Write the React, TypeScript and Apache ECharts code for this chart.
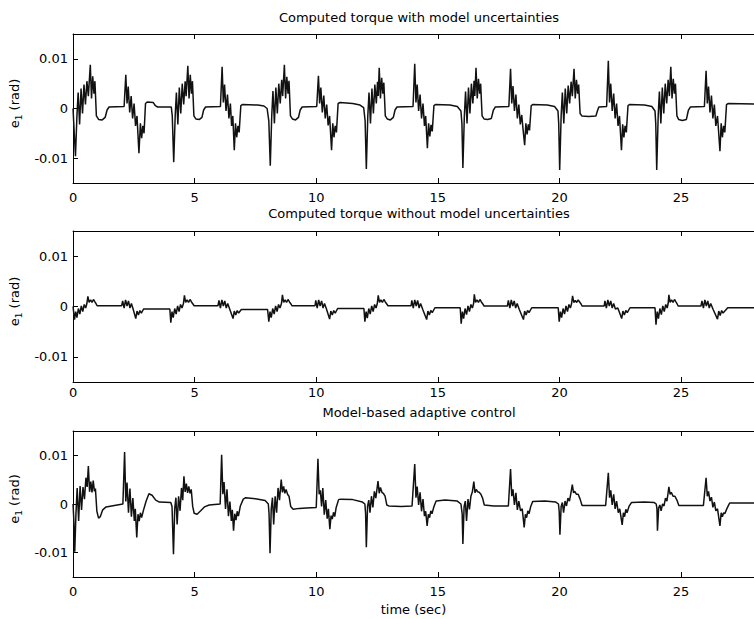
import React, { useEffect, useRef } from "react";
import * as echarts from "echarts";

const TITLES = [
  "Computed torque with model uncertainties",
  "Computed torque without model uncertainties",
  "Model-based adaptive control",
];
const X_TICKS = [0, 5, 10, 15, 20, 25];
const X_MIN = 0;
const X_MAX = 28;
const Y_TICKS = [-0.01, 0, 0.01];
const Y_TICK_LABELS = ["-0.01", "0", "0.01"];
const Y_MIN = -0.015;
const Y_MAX = 0.015;
const X_NAME = "time (sec)";

// e1 values in milli-radians, [time (s), e1 (mrad)]
const E1_WITH_UNC: [number, number][] = [
  [0, 0], [0.05, -5], [0.1, -9.6], [0.16, -1.5], [0.21, 3.2], [0.27, -3.2], [0.33, 4], [0.39, -1], [0.45, 4.8], [0.51, 0.8], [0.57, 5.5], [0.63, 2.5], [0.71, 8.8], [0.76, 2], [0.81, 6.5], [0.86, 3], [0.9, 5.5], [0.96, -1.5], [1.05, -2.2], [1.2, -2.3], [1.32, -1.8], [1.4, -0.3], [1.48, 0.3], [2.1, 0.4],
  [2.17, 6.8], [2.22, 1], [2.27, 4.4], [2.33, -0.8], [2.39, 2.5], [2.45, -2], [2.51, 1], [2.57, -3.5], [2.63, -1.5], [2.71, -9], [2.77, -3], [2.82, -6], [2.87, -3.5], [2.92, -5], [2.98, 1.0], [3.05, 1.3], [3.3, 1.2], [3.38, 0.6], [3.48, 0.3], [4.04, 0.3],
  [4.08, -1.5], [4.14, -10.8], [4.2, -1.5], [4.25, 3.2], [4.31, -3.2], [4.37, 4.2], [4.43, -1], [4.49, 5], [4.55, 0.8], [4.61, 5.5], [4.65, 2.5], [4.72, 8.6], [4.77, 2], [4.82, 6.8], [4.87, 3], [4.91, 5.5], [4.97, -1.5], [5.05, -2.1], [5.2, -2.2], [5.3, -1.8], [5.37, -0.3], [5.45, 0.3], [6.06, 0.4],
  [6.13, 8.4], [6.18, 1.2], [6.23, 4.8], [6.29, -0.5], [6.35, 2.8], [6.41, -2], [6.47, 1], [6.52, -3.5], [6.57, -1.5], [6.63, -8.4], [6.68, -3], [6.73, -5.8], [6.78, -3.5], [6.83, -4.8], [6.9, 0.6], [6.96, 0.8], [7.6, 0.7], [7.85, 0.5], [7.98, 0],
  [8.05, -2.5], [8.11, -11.5], [8.17, -1.5], [8.22, 3.5], [8.28, -3], [8.34, 4.2], [8.4, -1], [8.46, 5], [8.52, 1], [8.58, 5.8], [8.62, 2.5], [8.69, 8.8], [8.74, 2], [8.79, 6.4], [8.84, 3], [8.88, 5.6], [8.94, -1.5], [9.02, -2.1], [9.15, -2.3], [9.27, -1.8], [9.34, -0.3], [9.42, 0.3], [10.02, 0.4],
  [10.09, 6.6], [10.14, 1], [10.19, 4.2], [10.25, -0.8], [10.31, 2.6], [10.37, -2], [10.43, 0.8], [10.49, -3.4], [10.55, -1.5], [10.63, -8.4], [10.68, -3], [10.73, -5.8], [10.78, -3.5], [10.83, -4.8], [10.9, 1.0], [10.98, 1.2], [11.5, 1.0], [11.8, 0.7], [11.95, 0.2],
  [12.01, -2.5], [12.06, -12.2], [12.12, -1.5], [12.17, 3.2], [12.23, -3], [12.29, 4], [12.35, -1], [12.41, 4.8], [12.47, 1], [12.52, 5.4], [12.55, 2.5], [12.59, 8.2], [12.64, 2], [12.69, 6.2], [12.74, 3], [12.78, 5.2], [12.84, -1.5], [12.92, -2.1], [13.05, -2.3], [13.17, -1.8], [13.24, -0.3], [13.32, 0.3], [13.98, 0.4],
  [14.05, 9], [14.1, 1.2], [14.15, 4.8], [14.21, -0.5], [14.27, 2.8], [14.33, -2], [14.39, 1], [14.45, -3.5], [14.5, -1.5], [14.57, -8], [14.62, -3], [14.67, -5.6], [14.72, -3.3], [14.77, -4.6], [14.84, 0.6], [14.9, 0.8], [15.5, 0.7], [15.8, 0.4], [15.95, -0.5],
  [15.99, -3], [16.03, -12], [16.09, -1.5], [16.14, 3.4], [16.2, -3], [16.26, 4.2], [16.32, -1], [16.38, 5], [16.44, 1], [16.49, 5.6], [16.52, 2.5], [16.57, 8.2], [16.62, 2], [16.67, 6], [16.72, 3], [16.76, 5], [16.82, -1.5], [16.9, -2.1], [17.05, -2.2], [17.2, -2], [17.28, -0.4], [17.36, 0.3], [17.92, 0.4],
  [17.99, 8], [18.04, 1], [18.09, 4.5], [18.15, -0.5], [18.21, 2.8], [18.27, -2], [18.33, 0.8], [18.39, -3.2], [18.45, -1.3], [18.51, -4.5], [18.57, -7.4], [18.62, -3], [18.67, -5.2], [18.72, -3.2], [18.77, -4.4], [18.84, 0.6], [18.9, 0.8], [19.5, 0.7], [19.8, 0.4], [19.94, -0.5],
  [19.97, -3], [20.01, -12.4], [20.07, -1.5], [20.12, 3.2], [20.18, -3], [20.24, 4], [20.3, -1], [20.36, 4.6], [20.42, 1], [20.48, 5.4], [20.53, 2.5], [20.6, 8], [20.65, 2], [20.7, 5.8], [20.75, 3], [20.79, 4.8], [20.85, -1], [20.92, -1.5], [21.2, -1.6], [21.5, -1.5], [21.56, -0.5], [21.62, 0.3], [21.94, 0.4],
  [22.01, 9.6], [22.06, 1.2], [22.11, 5], [22.17, -0.5], [22.23, 3], [22.29, -2], [22.35, 1], [22.41, -3.5], [22.47, -1.5], [22.55, -8.4], [22.6, -3.2], [22.65, -5.8], [22.7, -3.5], [22.75, -4.8], [22.82, 0.6], [22.88, 0.8], [23.5, 0.7], [23.8, 0.4], [23.93, -0.5],
  [23.96, -3], [24.0, -12.4], [24.06, -1.5], [24.11, 3.4], [24.17, -3], [24.23, 4.2], [24.29, -1], [24.35, 5], [24.41, 1], [24.47, 5.8], [24.52, 2.5], [24.58, 8.4], [24.63, 2], [24.68, 6], [24.73, 3], [24.77, 5], [24.83, -1.5], [24.9, -2.2], [25.05, -2.4], [25.22, -2.2], [25.3, -0.4], [25.38, 0.3], [25.96, 0.4],
  [26.03, 7.6], [26.08, 1], [26.13, 4.4], [26.19, -0.8], [26.25, 2.6], [26.31, -2], [26.37, 0.8], [26.43, -3.5], [26.5, -1.5], [26.6, -8.6], [26.65, -3], [26.7, -5.8], [26.75, -3.5], [26.8, -4.8], [26.87, 0.8], [26.93, 1.0], [28, 0.9],
];

const E1_WITHOUT_UNC: [number, number][] = [
  [0, 0], [0.06, -2.6], [0.11, -1], [0.16, -2.2], [0.22, -0.4], [0.28, -1.5], [0.34, 0.1], [0.4, -1], [0.46, 0.4], [0.52, -0.3], [0.57, 0.6], [0.61, 2], [0.66, 0.8], [0.72, 1.3], [0.78, 0.8], [0.84, 1.4], [0.9, 0.9], [0.95, 0.5], [0.99, 0.15], [2.0, 0.15],
  [2.04, 1.1], [2.1, -0.3], [2.16, 1.3], [2.22, 0.1], [2.28, 1.1], [2.34, -0.3], [2.4, 0.6], [2.47, -0.5], [2.58, -2.4], [2.63, -0.9], [2.69, -1.7], [2.75, -0.8], [2.81, -1.3], [2.9, -0.5], [3.98, -0.5],
  [4.02, -3.2], [4.07, -1], [4.12, -2.2], [4.18, -0.4], [4.24, -1.5], [4.3, 0.1], [4.36, -1], [4.42, 0.4], [4.48, -0.3], [4.54, 0.6], [4.58, 2.2], [4.63, 0.8], [4.69, 1.3], [4.75, 0.8], [4.81, 1.4], [4.87, 0.9], [4.93, 0.5], [4.98, 0.15], [5.96, 0.15],
  [6.0, 1.2], [6.06, -0.3], [6.12, 1.3], [6.18, 0.1], [6.24, 1.1], [6.3, -0.3], [6.36, 0.6], [6.44, -0.5], [6.58, -2.4], [6.63, -0.9], [6.69, -1.7], [6.75, -0.8], [6.81, -1.3], [6.92, -0.6], [8.0, -0.6],
  [8.05, -3], [8.1, -1], [8.15, -2.2], [8.21, -0.4], [8.27, -1.5], [8.33, 0.1], [8.39, -1], [8.45, 0.4], [8.51, -0.3], [8.57, 0.6], [8.61, 2.3], [8.66, 0.8], [8.72, 1.3], [8.78, 0.8], [8.84, 1.4], [8.9, 0.9], [8.96, 0.5], [9.0, 0.15], [9.95, 0.15],
  [9.98, 1.2], [10.04, -0.3], [10.1, 1.3], [10.16, 0.1], [10.22, 1.1], [10.28, -0.3], [10.34, 0.6], [10.42, -0.5], [10.55, -2.5], [10.6, -0.9], [10.66, -1.7], [10.72, -0.8], [10.78, -1.3], [10.88, -0.4], [11.96, -0.4],
  [12.0, -3], [12.05, -1], [12.1, -2.3], [12.16, -0.4], [12.22, -1.5], [12.28, 0.1], [12.34, -1], [12.4, 0.4], [12.46, -0.3], [12.51, 0.6], [12.55, 2.2], [12.6, 0.8], [12.66, 1.3], [12.72, 0.8], [12.78, 1.4], [12.84, 0.9], [12.9, 0.5], [12.95, 0.15], [13.9, 0.15],
  [13.93, 1.2], [13.99, -0.3], [14.05, 1.3], [14.11, 0.1], [14.17, 1.2], [14.23, -0.3], [14.29, 0.6], [14.38, -0.6], [14.54, -2.6], [14.59, -0.9], [14.65, -1.7], [14.71, -0.8], [14.77, -1.2], [14.88, -0.25], [15.92, -0.25],
  [15.96, -3.4], [16.01, -1], [16.06, -2.4], [16.12, -0.4], [16.18, -1.6], [16.24, 0.1], [16.3, -1], [16.36, 0.4], [16.42, -0.3], [16.47, 0.6], [16.5, 2.4], [16.55, 0.8], [16.61, 1.3], [16.67, 0.8], [16.73, 1.4], [16.79, 0.9], [16.85, 0.5], [16.9, 0.1], [17.86, 0.1],
  [17.9, 1.2], [17.96, -0.3], [18.02, 1.3], [18.08, 0.1], [18.14, 1.1], [18.2, -0.3], [18.26, 0.6], [18.35, -0.6], [18.52, -2.6], [18.57, -0.9], [18.63, -1.7], [18.69, -0.8], [18.75, -1.2], [18.86, -0.25], [19.95, -0.25],
  [19.99, -3], [20.04, -1], [20.09, -2.2], [20.15, -0.4], [20.21, -1.5], [20.27, 0.1], [20.33, -1], [20.39, 0.4], [20.45, -0.3], [20.5, 0.6], [20.54, 2.1], [20.59, 0.8], [20.65, 1.2], [20.71, 0.8], [20.77, 1.3], [20.83, 0.9], [20.89, 0.5], [20.93, 0.1], [21.84, 0.1],
  [21.87, 1.1], [21.93, -0.3], [21.99, 1.3], [22.05, 0.1], [22.11, 1.1], [22.17, -0.3], [22.23, 0.6], [22.3, -0.5], [22.4, -0.3], [22.56, -2.4], [22.61, -0.9], [22.67, -1.7], [22.73, -0.8], [22.79, -1.2], [22.9, -0.25], [23.93, -0.25],
  [23.97, -3.6], [24.02, -1], [24.07, -2.4], [24.13, -0.4], [24.19, -1.6], [24.25, 0.1], [24.31, -1], [24.37, 0.4], [24.43, -0.3], [24.47, 0.6], [24.5, 2.3], [24.55, 0.8], [24.61, 1.3], [24.67, 0.8], [24.73, 1.4], [24.79, 0.9], [24.84, 0.5], [24.88, 0.1], [25.82, 0.1],
  [25.86, 1.1], [25.92, -0.3], [25.98, 1.3], [26.04, 0.1], [26.1, 1.1], [26.16, -0.3], [26.22, 0.6], [26.32, -0.6], [26.5, -2.5], [26.55, -0.9], [26.61, -1.8], [26.67, -0.8], [26.73, -1.3], [26.82, -0.8], [26.92, -0.25], [28, -0.25],
];

const E1_ADAPTIVE: [number, number][] = [
  [0, 0], [0.03, -3], [0.07, -9.8], [0.12, -2], [0.17, 3.3], [0.23, -3.5], [0.29, 3.7], [0.35, -1.2], [0.41, 3.5], [0.47, 1], [0.53, 5.4], [0.58, 3.5], [0.63, 7.8], [0.68, 2.5], [0.73, 4.6], [0.78, 2.4], [0.83, 4.8], [0.88, 2.6], [0.92, 3.2], [0.98, -1.5], [1.05, -2.9], [1.12, -2.6], [1.22, -1.2], [1.36, -0.6], [1.7, -0.3], [2.05, 0],
  [2.12, 10.7], [2.17, 0.5], [2.22, 4.4], [2.28, -1.8], [2.34, 3.2], [2.4, -2.6], [2.46, 1.2], [2.52, -3.5], [2.56, -1], [2.62, -6.9], [2.67, -2.1], [2.72, -3.5], [2.77, -1.8], [2.82, -2.8], [2.9, -1.2], [3.0, 0.5], [3.12, 2.1], [3.25, 1.8], [3.4, 0.8], [3.55, 0.4], [4.02, 0.3],
  [4.07, -0.5], [4.13, -10.3], [4.18, -1], [4.23, 1.3], [4.28, -4.2], [4.34, 1.6], [4.4, -1.4], [4.46, 3.3], [4.51, 0.8], [4.56, 5.7], [4.61, 2.5], [4.66, 4.2], [4.71, 2.3], [4.76, 3.6], [4.81, 2.2], [4.86, 3.0], [4.92, -0.5], [4.98, -1.9], [5.1, -2.1], [5.25, -1.4], [5.4, -0.6], [5.6, -0.2], [6.05, 0],
  [6.11, 10.1], [6.16, 2], [6.21, 4.5], [6.27, -1], [6.33, 3], [6.39, -2.5], [6.45, 0.5], [6.51, -3.5], [6.55, -1.2], [6.6, -5.5], [6.65, -2], [6.7, -3.3], [6.75, -1.5], [6.8, -2.5], [6.88, -0.4], [7.0, 1.0], [7.1, 1.3], [7.5, 1.1], [7.9, 0.7], [8.03, 0],
  [8.06, -2], [8.1, -10.1], [8.15, -1], [8.2, 1.3], [8.25, -4.2], [8.31, 1.6], [8.37, -1.8], [8.43, 3.3], [8.49, 0.8], [8.56, 5.0], [8.61, 2.4], [8.66, 3.6], [8.71, 2.2], [8.76, 3.0], [8.82, 2.0], [8.88, 1.6], [8.95, -0.5], [9.05, -1.1], [9.3, -0.9], [9.6, -0.8], [10.0, -0.7],
  [10.07, 9.3], [10.12, 2], [10.17, 2.8], [10.22, -0.5], [10.27, 3.3], [10.33, -2.2], [10.39, 0.8], [10.45, -3], [10.5, -1], [10.56, -5.2], [10.61, -2.4], [10.66, -3.1], [10.71, -1.7], [10.76, -2.6], [10.82, -0.7], [10.92, 0.9], [11.0, 1.0], [11.5, 0.9], [11.9, 0.4], [12.0, 0],
  [12.03, -2], [12.06, -8.9], [12.11, -0.5], [12.16, 0.8], [12.21, -1.8], [12.27, 1.6], [12.33, -0.7], [12.39, 2.6], [12.45, 1.2], [12.54, 4.7], [12.59, 2.2], [12.64, 3.4], [12.7, 2.4], [12.76, 2.2], [12.83, 1.6], [12.9, -0.2], [12.98, -0.4], [13.5, -0.5], [13.94, -0.4],
  [14.05, 8.2], [14.1, 1.3], [14.15, 3.6], [14.21, -0.2], [14.27, 2.4], [14.33, -1.5], [14.39, 1], [14.45, -2.5], [14.5, -1.5], [14.56, -4.5], [14.61, -2.1], [14.66, -2.8], [14.71, -1.4], [14.76, -2], [14.84, -0.5], [14.93, 0.6], [15.3, 0.8], [15.8, 0.6], [15.95, 0],
  [16.0, -2], [16.03, -8.2], [16.08, -0.5], [16.13, 0.6], [16.18, -3.5], [16.24, 1], [16.3, -1.1], [16.36, 1.6], [16.42, 2.5], [16.48, 4.6], [16.53, 2.3], [16.58, 3], [16.64, 2.5], [16.7, 2.4], [16.77, 2], [16.84, 1.2], [16.91, -0.2], [17.3, -0.4], [17.9, -0.4],
  [17.99, 7.2], [18.04, 1.6], [18.09, 3.0], [18.15, -0.2], [18.21, 2.3], [18.27, -1.2], [18.33, 0.6], [18.4, -1.4], [18.47, -1], [18.55, -4.8], [18.6, -2.1], [18.65, -2.8], [18.7, -1.4], [18.75, -2], [18.82, -0.5], [18.9, 0.5], [19.4, 0.6], [19.85, 0.4], [19.96, 0],
  [19.99, -1.5], [20.02, -6.3], [20.07, -0.5], [20.12, 0.3], [20.17, -1.8], [20.23, 0.6], [20.29, -0.4], [20.35, 1.2], [20.41, 0.6], [20.47, 2.2], [20.53, 4], [20.58, 2.3], [20.63, 2.6], [20.7, 2], [20.77, 2], [20.85, 1], [20.93, -0.3], [21.9, -0.3],
  [22.01, 6.4], [22.06, 1.3], [22.11, 2.8], [22.17, -0.2], [22.23, 2], [22.29, -1], [22.35, 0.6], [22.42, -1.8], [22.48, -1], [22.58, -4.3], [22.63, -1.8], [22.68, -2.6], [22.73, -1.1], [22.78, -1.8], [22.86, -0.5], [22.96, 0.3], [23.5, 0.4], [23.9, 0.3], [23.98, 0],
  [24.01, -1], [24.03, -5.5], [24.08, -0.8], [24.13, -0.2], [24.18, -1.4], [24.24, 0], [24.3, -0.4], [24.36, 1.2], [24.42, 0.6], [24.46, 2], [24.5, 3.5], [24.55, 2], [24.6, 2.4], [24.67, 1.6], [24.75, 1.6], [24.83, 0.8], [24.91, -0.3], [25.92, -0.3],
  [26.03, 5.4], [26.08, 1.6], [26.13, 2.6], [26.19, 0.6], [26.25, 1.4], [26.31, -0.7], [26.37, 0.4], [26.43, -1.4], [26.5, -1.0], [26.6, -4.5], [26.65, -1.8], [26.7, -2.6], [26.75, -1.8], [26.8, -2], [26.88, -1], [26.95, -0.3], [27.0, 0.2], [28, 0.2],
];

const SERIES_DATA = [E1_WITH_UNC, E1_WITHOUT_UNC, E1_ADAPTIVE];

export default function App() {
  const ref = useRef<HTMLDivElement>(null);

  useEffect(() => {
    document.body.style.margin = "0";
    if (!ref.current) return;
    const chart = echarts.init(ref.current, null, { renderer: "svg" });
    const font = "DejaVu Sans";
    const grids = [
      { left: 73, top: 34, width: 692, height: 149 },
      { left: 73, top: 231, width: 692, height: 151 },
      { left: 73, top: 431, width: 692, height: 146 },
    ];
    const titleTops = [11, 207, 406];
    const labelMargins = [8, 4, 8];
    const lineStyle = { color: "#000", width: 1 };

    const xAxis: any[] = [];
    const yAxis: any[] = [];
    const series: any[] = [];
    grids.forEach((g, i) => {
      xAxis.push({
        type: "value",
        gridIndex: i,
        position: "bottom",
        min: X_MIN,
        max: X_MAX,
        axisLine: { show: true, onZero: false, lineStyle },
        axisTick: { show: true, inside: true, length: 5, customValues: X_TICKS, lineStyle },
        axisLabel: {
          show: true,
          customValues: X_TICKS,
          margin: labelMargins[i],
          color: "#000",
          fontFamily: font,
          fontSize: 13,
        },
        splitLine: { show: false },
        name: i === 2 ? X_NAME : "",
        nameLocation: "middle",
        nameGap: 26,
        nameTextStyle: { color: "#000", fontFamily: font, fontSize: 13 },
      });
      xAxis.push({
        type: "value",
        gridIndex: i,
        position: "top",
        min: X_MIN,
        max: X_MAX,
        axisLine: { show: true, onZero: false, lineStyle },
        axisTick: { show: true, inside: true, length: 5, customValues: X_TICKS, lineStyle },
        axisLabel: { show: false },
        splitLine: { show: false },
      });
      yAxis.push({
        type: "value",
        gridIndex: i,
        position: "left",
        min: Y_MIN,
        max: Y_MAX,
        axisLine: { show: true, onZero: false, lineStyle },
        axisTick: { show: true, inside: true, length: 5, customValues: Y_TICKS, lineStyle },
        axisLabel: {
          show: true,
          customValues: Y_TICKS,
          margin: 5,
          color: "#000",
          fontFamily: font,
          fontSize: 13,
          formatter: (v: number) => {
            const k = Y_TICKS.findIndex((t) => Math.abs(t - v) < 1e-9);
            return k >= 0 ? Y_TICK_LABELS[k] : "";
          },
        },
        splitLine: { show: false },
        name: "{e|e}{s|1}{e| (rad)}",
        nameLocation: "middle",
        nameGap: 45,
        nameRotate: 90,
        nameTextStyle: {
          color: "#000",
          fontFamily: font,
          fontSize: 13,
          padding: [0, 0, 0, 10],
          rich: {
            e: { fontFamily: font, fontSize: 13, color: "#000", lineHeight: 18, verticalAlign: "middle" },
            s: { fontFamily: font, fontSize: 9, color: "#000", lineHeight: 18, verticalAlign: "bottom" },
          },
        },
      });
      series.push({
        type: "line",
        xAxisIndex: i * 2,
        yAxisIndex: i,
        showSymbol: false,
        symbol: "none",
        lineStyle: { color: "#111", width: 1.5 },
        data: SERIES_DATA[i].map(([t, v]) => [t, v / 1000]),
      });
    });

    chart.setOption({
      animation: false,
      backgroundColor: "#fff",
      title: TITLES.map((t, i) => ({
        text: t,
        left: 419,
        top: titleTops[i],
        textAlign: "center",
        padding: 0,
        textStyle: { color: "#000", fontFamily: font, fontSize: 13, fontWeight: "normal" },
      })),
      grid: grids,
      xAxis,
      yAxis,
      series,
    });
    return () => chart.dispose();
  }, []);

  return <div ref={ref} style={{ width: 754, height: 619 }} />;
}
